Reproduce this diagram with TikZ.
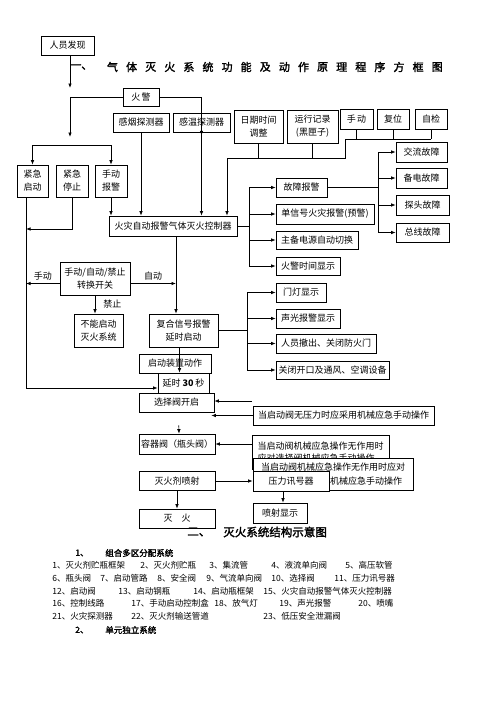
\documentclass[tikz,border=0pt]{standalone}
\usepackage{fontspec}
\setmainfont{Noto Sans CJK SC}
\newfontfamily\heiti{Noto Sans CJK SC}[FakeBold=2]
\usetikzlibrary{arrows.meta,positioning}

\begin{document}
\begin{tikzpicture}[x=1pt, y=-1pt, line width=0.7pt,
  >={Latex[length=4.5pt,width=3.5pt]},
  box/.style={draw, inner sep=0pt, align=center, font=\fontsize{9}{13}\selectfont},
  lbl/.style={inner sep=0pt, font=\fontsize{9}{10}\selectfont},
  item/.style={anchor=west, inner sep=0pt, font=\fontsize{8.5}{9}\selectfont},
  head/.style={anchor=west, inner sep=0pt, font=\heiti\fontsize{8.5}{9}\selectfont}]

\useasboundingbox (0,0) rectangle (496,702);

% Start
\node[box, minimum width=53, minimum height=19] (renyuan) at (67.5,45.5) {人员发现};

% Title
\node[anchor=west, inner sep=0pt, font=\heiti\fontsize{11}{11}\selectfont] (t0) at (70,67) {一、};
\foreach \c [count=\i] in {气,体,灭,火,系,统,功,能,及,动,作,原,理,程,序,方,框,图}
  \node[inner sep=0pt, font=\heiti\fontsize{11}{11}\selectfont] (t\i) at ({112.5+(\i-1)*19.1},67) {\c};

% Alarm and detectors
\node[box, minimum width=36, minimum height=18] (huojing) at (141,97) {火\,警};
\node[box, minimum width=56, minimum height=19] (yandet) at (141,122.5) {感烟探测器};
\node[box, minimum width=57, minimum height=19] (wendet) at (201.5,122.5) {感温探测器};

% Top row
\node[box, minimum width=49, minimum height=33] (riqi) at (258.5,126.5) {日期时间\\调整};
\node[box, minimum width=51, minimum height=33] (yunxing) at (312.5,126.5) {运行记录\\(黑匣子)};
\node[box, minimum width=33, minimum height=20] (shoudong) at (356.5,119) {手\,动};
\node[box, minimum width=32, minimum height=20] (fuwei) at (393,119) {复位};
\node[box, minimum width=32, minimum height=20] (zijian) at (431,119) {自检};

% Manual buttons
\node[box, minimum width=31, minimum height=32] (jqqd) at (32.5,181) {紧急\\启动};
\node[box, minimum width=32, minimum height=32] (jqtz) at (72,181) {紧急\\停止};
\node[box, minimum width=32, minimum height=32] (sdbj) at (111,181) {手动\\报警};

% Controller
\node[box, minimum width=128, minimum height=20] (ctrl) at (173,226) {火灾自动报警气体灭火控制器};

% Fault outputs
\node[box, minimum width=51, minimum height=20] (jlgz) at (421.5,152) {交流故障};
\node[box, minimum width=51, minimum height=20] (bdgz) at (421.5,178) {备电故障};
\node[box, minimum width=53, minimum height=20] (ttgz) at (422.5,205) {探头故障};
\node[box, minimum width=53, minimum height=19] (zxgz) at (422.5,232.5) {总线故障};

% Controller outputs
\node[box, minimum width=51, minimum height=19] (gzbj) at (301.5,187.5) {故障报警};
\node[box, minimum width=98, minimum height=20] (dxh) at (325,214) {单信号火灾报警(预警)};
\node[box, minimum width=82, minimum height=18] (zbdy) at (317,240) {主备电源自动切换};
\node[box, minimum width=64, minimum height=18] (hjsj) at (308,266) {火警时间显示};

% Switch
\node[box, minimum width=70, minimum height=33] (switch) at (95,278.5) {手动/自动/禁止\\转换开关};
\node[box, minimum width=49, minimum height=33] (bunen) at (98.5,330.5) {不能启动\\灭火系统};
\node[box, minimum width=69, minimum height=33] (fuhe) at (183.5,330.5) {复合信号报警\\延时启动};

% Delayed outputs
\node[box, minimum width=50, minimum height=19] (mdxs) at (301,292.5) {门灯显示};
\node[box, minimum width=64, minimum height=19] (sgbj) at (308,318.5) {声光报警显示};
\node[box, minimum width=100, minimum height=19] (rycc) at (326,343.5) {人员撤出、关闭防火门};
\node[box, minimum width=113, minimum height=18] (gbkk) at (332.5,370) {关闭开口及通风、空调设备};

% Release chain
\node[box, minimum width=72, minimum height=19] (qidong) at (175,363.5) {启动装置动作};
\node[box, minimum width=51, minimum height=20] (yanshi) at (183.5,383) {延时 \textbf{30} 秒};
\node[box, fill=white, minimum width=75, minimum height=19] (xuanze) at (176.5,402.5) {选择阀开启};
\node[box, minimum width=181, minimum height=19] (wuyali) at (343.5,415.5) {当启动阀无压力时应采用机械应急手动操作};
\node[box, minimum width=76, minimum height=20] (rongqi) at (177,444) {容器阀（瓶头阀）};
\node[box, align=left, font=\fontsize{9}{12}\selectfont, minimum width=137, minimum height=34] (jixie1) at (320.5,452)
  {当启动阀机械应急操作无作用时\\应对选择阀机械应急手动操作};
\node[box, fill=white, align=left, font=\fontsize{9}{14}\selectfont, minimum width=160, minimum height=32] (jixie2) at (333,474)
  {当启动阀机械应急操作无作用时应对\\\hspace*{69pt}机械应急手动操作};
\node[box, fill=white, minimum width=76, minimum height=20] (yali) at (291,481) {压力讯号器};
\node[box, minimum width=76, minimum height=19] (penshe) at (177,481) {灭火剂喷射};
\node[box, minimum width=76, minimum height=19] (miehuo) at (177,518.5) {灭\quad 火};
\node[box, minimum width=54, minimum height=20] (xianshi) at (280,513) {喷射显示};

% Junctions
\coordinate (fork) at (70,97);
\coordinate (split) at (70,145);
\coordinate (bus1) at (345,139);
\coordinate (bus2) at (227,158);
\coordinate (fbus) at (378,191);
\coordinate (cbus) at (249,228);
\coordinate (rbus) at (247,335);
\coordinate (lbus) at (26,388);
\coordinate (stopj) at (26,229);
\coordinate (cs) at ([xshift=3pt]ctrl.south);
\coordinate (freeA) at (252,401);

% Alarm paths
\draw[->] (renyuan.south -| fork) -- ([yshift=9pt]fork);
\draw[->] (huojing.west) -| ([yshift=8pt]split);
\draw (jqqd.north |- split) -- (sdbj.north |- split);
\draw[->] (jqqd.north |- split) -- (jqqd.north);
\draw[->] (sdbj.north |- split) -- (sdbj.north);
\draw[->] (huojing.east) -| ([yshift=-3pt]wendet.south);
\draw[->] (wendet.south) -- (wendet.south |- ctrl.north);
\draw[->] (yandet.south) -- (yandet.south |- ctrl.north);
\draw[->] (sdbj.south) -- (sdbj.south |- ctrl.north);

% Top row bus
\foreach \n in {shoudong,fuwei,zijian}
  \draw (\n.south) -- (\n.south |- bus1);
\draw (bus1) -- (zijian.south |- bus1);
\draw (bus1) |- (bus2);
\draw (riqi.south) -- (riqi.south |- bus2);
\draw (yunxing.south) -- (yunxing.south |- bus2);
\draw[->] (bus2) -- (bus2 |- ctrl.north);

% Faults
\draw (gzbj.east) -- (gzbj.east -| fbus);
\draw (fbus |- jlgz.west) -- (fbus |- zxgz.west);
\foreach \n in {jlgz,bdgz,ttgz,zxgz}
  \draw[->] (fbus |- \n.west) -- (\n.west);

% Controller outputs
\draw (ctrl.east) -- (ctrl.east -| cbus);
\draw (cbus |- gzbj.west) -- (cbus |- hjsj.west);
\foreach \n in {gzbj,dxh,zbdy,hjsj}
  \draw[->] (cbus |- \n.west) -- (\n.west);

% Emergency start / stop
\draw[->] (jqqd.south -| lbus) |- ([yshift=-5pt]yanshi.west);
\draw[->] (jqtz.south) |- (stopj);

% Switch
\draw[->] ([yshift=-5pt]switch.west) -- ([yshift=-5pt]switch.west -| lbus) node[lbl, midway, above=3pt] {手动};
\draw[->] ([yshift=-5pt]switch.east) -- ([yshift=-5pt]switch.east -| cs) node[lbl, midway, above=3pt] {自动};
\draw[->] (switch.south) -- (switch.south |- bunen.north) node[lbl, midway, right=8pt] {禁止};
\draw[->] (cs) -- (cs |- fuhe.north);

% Delayed outputs
\draw (fuhe.east) -- (fuhe.east -| rbus);
\draw (rbus |- mdxs.west) -- (rbus |- gbkk.west);
\foreach \n in {mdxs,sgbj,rycc,gbkk}
  \draw[->] (rbus |- \n.west) -- (\n.west);

% Release
\draw[->] ([xshift=-4pt]fuhe.south) -- ([xshift=-4pt]yanshi.north);
\draw[->] (freeA) -- (xuanze.east |- freeA);
\draw[->] (wuyali.west) -- ([xshift=-3pt]xuanze.south east |- wuyali.west);
\draw[->, shorten <=13pt] ([xshift=2pt]xuanze.south) -- ([xshift=2pt]rongqi.north);
\draw[->] (jixie1.west |- rongqi.east) -- (rongqi.east);
\draw[->] (penshe.east) -- (yali.west);
\draw[->] (penshe.south) -- (miehuo.north);
\draw[->] ([xshift=3pt]xianshi.north |- yali.south) -- ([xshift=3pt]xianshi.north);

% Part two
\node[anchor=west, inner sep=0pt, font=\heiti\fontsize{11.5}{12}\selectfont] (sec2a) at (187,532) {二、};
\node[anchor=west, inner sep=0pt, font=\heiti\fontsize{11.5}{12}\selectfont] (sec2b) at (223,532) {灭火系统结构示意图};

\node[head] (h1a) at (75,553) {1、};
\node[head] (h1b) at (105,553) {组合多区分配系统};
\foreach \x/\y/\t [count=\i] in {
  52/565/1、灭火剂贮瓶框架, 140/565/2、灭火剂贮瓶, 209/565/3、集流管, 271/565/4、液流单向阀, 345/565/5、高压软管,
  52/578/6、瓶头阀, 100/578/7、启动管路, 157/578/8、安全阀, 206/578/9、气流单向阀, 271/578/10、选择阀, 334/578/11、压力讯号器,
  52/591/12、启动阀, 118/591/13、启动钢瓶, 193/591/14、启动瓶框架, 263/591/15、火灾自动报警气体灭火控制器,
  52/603/16、控制线路, 131/603/17、手动启动控制盒, 214/603/18、放气灯, 279/603/19、声光报警, 358/603/20、喷嘴,
  52/616/21、火灾探测器, 131/616/22、灭火剂输送管道, 263/616/23、低压安全泄漏阀}
  \node[item] (it\i) at (\x,\y) {\t};
\node[head] (h2a) at (75,630) {2、};
\node[head] (h2b) at (105,630) {单元独立系统};

\end{tikzpicture}
\end{document}
